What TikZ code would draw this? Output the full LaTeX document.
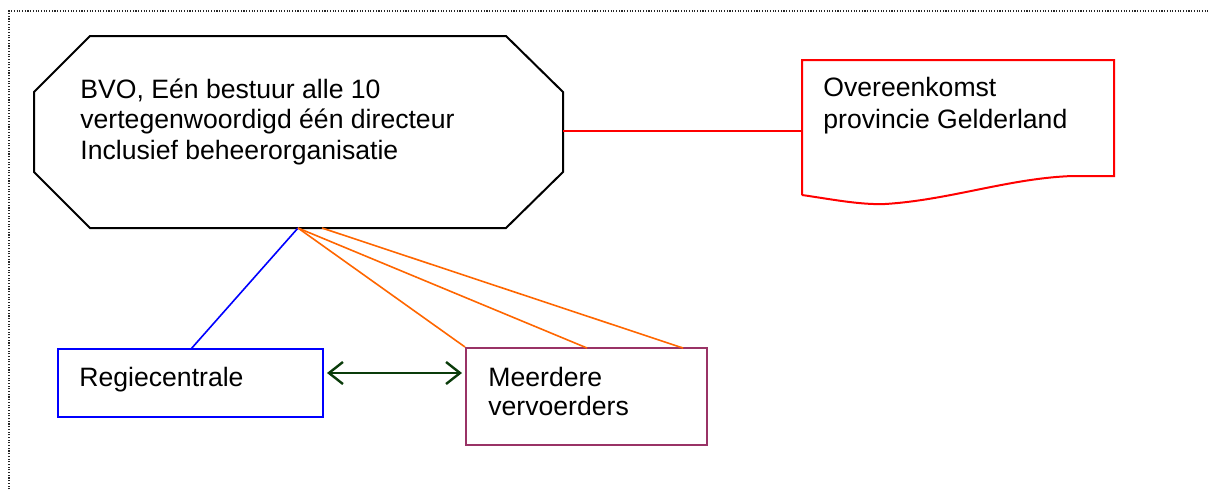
\documentclass[tikz,border=0pt]{standalone}
\usepackage{fontspec}
\setmainfont{Liberation Sans}
\usetikzlibrary{arrows.meta,fit}
\definecolor{bvored}{RGB}{255,0,0}
\definecolor{bvoblue}{RGB}{0,0,255}
\definecolor{bvoorange}{RGB}{255,102,0}
\definecolor{bvopurple}{RGB}{153,51,102}
\definecolor{bvogreen}{RGB}{10,60,10}
\begin{document}
\begin{tikzpicture}[x=0.5pt,y=-0.5pt,
  txt/.style={anchor=base west, inner sep=0, align=left},
  boxline/.style={line width=1pt},
  conn/.style={line width=0.8pt},
  frame/.style={line width=0.6pt, draw=black!85, dash pattern=on 0.55pt off 0.8pt}]
\useasboundingbox (0,0) rectangle (1210,489);
% dotted frame (top and left edges)
\draw[frame] (9,600) -- (9,11) -- (1215,11);
% octagon
\draw[boxline] (90,36) -- (506,36) -- (563,92) -- (563,172) -- (506,228) -- (90,228) -- (34,172) -- (34,92) -- cycle;
\coordinate (bvoR) at (563,131);
\coordinate (bvoB1) at (298,228);
\coordinate (bvoB2) at (322,228);
\node[txt, font=\fontsize{13.3}{15.25}\selectfont] (bvotext) at (80,159) {BVO, Eén bestuur alle 10\\vertegenwoordigd één directeur\\Inclusief beheerorganisatie};
% document shape
\draw[boxline, draw=bvored] (802,195) -- (802,60) -- (1114,60) -- (1114,176) -- (1073,176)
  .. controls (1010,178) and (950,200) .. (885,204)
  .. controls (860,205) and (830,199) .. (802,195);
\coordinate (docL) at (802,131);
\node[txt, font=\fontsize{13.3}{16}\selectfont] (doctext) at (823,128) {Overeenkomst\\provincie Gelderland};
% boxes
\node[boxline, draw=bvoblue, inner sep=0, fit={(58,349) (323,417)}] (regie) {};
\node[txt, font=\fontsize{13.3}{14.5}\selectfont] (regietext) at (79,386) {Regiecentrale};
\node[boxline, draw=bvopurple, inner sep=0, fit={(466,348) (707,445)}] (verv) {};
\node[txt, font=\fontsize{13.3}{14.5}\selectfont] (vervtext) at (488,415) {Meerdere\\vervoerders};
% connectors
\draw[conn, draw=bvored] (bvoR) -- (docL);
\draw[conn, draw=bvoblue] (bvoB1) -- (191,349);
\draw[conn, draw=bvoorange] (bvoB1) -- (verv.north west);
\draw[conn, draw=bvoorange] (bvoB1) -- (587,348);
\draw[conn, draw=bvoorange] (bvoB2) -- (683,348);
\draw[line width=1.2pt, draw=bvogreen, {Straight Barb[length=7pt,width=11pt]}-{Straight Barb[length=7pt,width=11pt]}] ([xshift=1.5pt]regie.east |- 0,373) -- ([xshift=-1.5pt]verv.west |- 0,373);
\end{tikzpicture}
\end{document}
